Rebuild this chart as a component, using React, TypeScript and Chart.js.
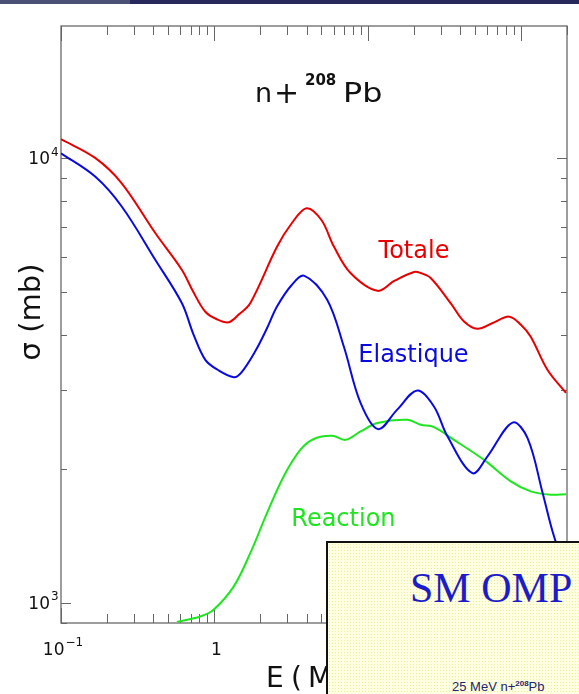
import React, { useEffect, useRef } from "react";
import { Chart, registerables } from "chart.js";

Chart.register(...registerables);

// Neutron energy (MeV) and cross sections (mb) for n + 208Pb
const totalEnergy = [0.1, 0.167, 0.249, 0.412, 0.615, 0.729, 0.874, 1.04, 1.24, 1.45, 1.72, 2.57, 3.2, 4.0, 5.0, 6.03, 7.74, 11.6, 15.0, 20.1, 22.2, 25.8, 34.9, 42.6, 52.1, 65, 84, 100, 116, 149, 197];
const totalSigma = [11020, 10000, 8770, 6780, 5600, 5000, 4510, 4337, 4270, 4450, 4720, 6320, 7130, 7710, 7250, 6320, 5510, 5025, 5295, 5540, 5510, 5370, 4710, 4288, 4128, 4248, 4397, 4215, 3963, 3340, 2961];

const elasticEnergy = [0.1, 0.167, 0.249, 0.412, 0.615, 0.729, 0.874, 1.05, 1.34, 1.5, 1.85, 2.2, 2.57, 3.2, 3.87, 5.45, 7.0, 9.0, 11.7, 15.6, 21.1, 27.1, 33.2, 48.3, 60.6, 88.3, 110.6, 138.7, 161, 200];
const elasticSigma = [10245, 9078, 7776, 5904, 4713, 4023, 3515, 3340, 3213, 3290, 3675, 4130, 4637, 5180, 5432, 4798, 3766, 2812, 2456, 2717, 2999, 2762, 2366, 1955, 2133, 2541, 2343, 1764, 1445, 1150];

const reactionEnergy = [0.57, 0.81, 0.99, 1.34, 1.72, 2.21, 2.84, 3.65, 4.46, 5.88, 7.18, 9.0, 11.6, 18.2, 22.2, 27.1, 36.6, 57.5, 86, 116, 157, 197];
const reactionSigma = [905, 931, 964, 1088, 1294, 1592, 1925, 2208, 2333, 2372, 2323, 2426, 2535, 2577, 2512, 2482, 2323, 2094, 1874, 1779, 1749, 1754];

// Axis ranges and labelled decades
const energyRange = [0.1, 200];
const sigmaRange = [900, 19800];
const energyTickValues = [0.1, 1, 10, 100];
const energyTickBase = ["10", "1", "10", "10"];
const energyTickExp = ["\u22121", "", "", "2"];
const sigmaTickValues = [1000, 10000];
const sigmaTickBase = ["10", "10"];
const sigmaTickExp = ["3", "4"];

// Curve names and where they are written (E in MeV, sigma in mb)
const curveNames = ["Totale", "Elastique", "Reaction"];
const curveNameEnergy = [11.8, 8.7, 3.18];
const curveNameSigma = [5960, 3480, 1490];

const RED = "#e80000";
const BLUE = "#0a0ae0";
const GREEN = "#1ee61e";
const curveColors = [RED, BLUE, GREEN];

const SANS = "'DejaVu Sans', 'Liberation Sans', sans-serif";

function toPoints(xs: number[], ys: number[]) {
  return xs.map((x, i) => ({ x, y: ys[i] }));
}

function drawPowerLabel(
  ctx: CanvasRenderingContext2D,
  base: string,
  exp: string,
  x: number,
  baseline: number,
  align: "center" | "right",
  baseSize: number,
  expSize: number
) {
  ctx.font = `${baseSize}px ${SANS}`;
  const bw = ctx.measureText(base).width;
  ctx.font = `${expSize}px ${SANS}`;
  const ew = exp ? ctx.measureText(exp).width + 1 : 0;
  const total = bw + ew;
  const left = align === "center" ? x - total / 2 : x - bw;
  ctx.textAlign = "left";
  ctx.textBaseline = "alphabetic";
  ctx.font = `${baseSize}px ${SANS}`;
  ctx.fillText(base, left, baseline);
  if (exp) {
    ctx.font = `${expSize}px ${SANS}`;
    ctx.fillText(exp, left + bw + 1, baseline - baseSize * 0.52);
  }
}

const framePlugin = {
  id: "pawFrame",
  beforeDatasetsDraw(chart: any) {
    const { ctx, chartArea: a, scales } = chart;
    const xs = scales.x;
    const ys = scales.y;
    ctx.save();
    ctx.strokeStyle = "#5c5c5c";
    ctx.lineWidth = 1.2;
    ctx.strokeRect(a.left, a.top, a.right - a.left, a.bottom - a.top);

    ctx.lineWidth = 1;
    ctx.strokeStyle = "#666";
    ctx.beginPath();
    for (let d = -1; d <= 2; d++) {
      for (let m = 1; m <= 9; m++) {
        const v = m * Math.pow(10, d);
        if (v < energyRange[0] || v > energyRange[1]) continue;
        const px = Math.round(xs.getPixelForValue(v)) + 0.5;
        const len = m === 1 ? 15 : 9;
        ctx.moveTo(px, a.bottom);
        ctx.lineTo(px, a.bottom - len);
        ctx.moveTo(px, a.top);
        ctx.lineTo(px, a.top + len);
      }
    }
    for (let d = 2; d <= 4; d++) {
      for (let m = 1; m <= 9; m++) {
        const v = m * Math.pow(10, d);
        if (v < sigmaRange[0] || v > sigmaRange[1]) continue;
        const py = Math.round(ys.getPixelForValue(v)) + 0.5;
        const len = m === 1 ? 10 : 6;
        ctx.moveTo(a.left, py);
        ctx.lineTo(a.left + len, py);
        ctx.moveTo(a.right, py);
        ctx.lineTo(a.right - len, py);
      }
    }
    ctx.stroke();

    // tick labels
    ctx.fillStyle = "#111";
    energyTickValues.forEach((v, i) => {
      const px = xs.getPixelForValue(v);
      drawPowerLabel(ctx, energyTickBase[i], energyTickExp[i], px + 2, a.bottom + 32, "center", 17, 12);
    });
    sigmaTickValues.forEach((v, i) => {
      const py = ys.getPixelForValue(v);
      drawPowerLabel(ctx, sigmaTickBase[i], sigmaTickExp[i], a.left - 11, py + 6.5, "right", 17, 12);
    });

    // axis titles
    ctx.fillStyle = "#111";
    ctx.font = `28px ${SANS}`;
    ctx.textAlign = "left";
    ctx.textBaseline = "alphabetic";
    ctx.fillText("E", 266, 687);
    ctx.fillText("(", 291, 687);
    ctx.fillText("MeV)", 308, 687);

    ctx.save();
    ctx.translate(40, 312);
    ctx.rotate(-Math.PI / 2);
    ctx.font = `29px ${SANS}`;
    ctx.textAlign = "center";
    ctx.fillText("\u03c3 (mb)", 0, 0);
    ctx.restore();

    // reaction title
    ctx.fillStyle = "#111";
    ctx.font = `27px ${SANS}`;
    ctx.fillText("n", 255, 102);
    ctx.font = `30px ${SANS}`;
    ctx.fillText("+", 274, 103);
    ctx.font = `bold 15px ${SANS}`;
    ctx.fillText("208", 305, 85);
    ctx.save();
    ctx.translate(343, 102);
    ctx.scale(1.18, 1);
    ctx.font = `27px ${SANS}`;
    ctx.fillText("Pb", 0, 0);
    ctx.restore();
    ctx.restore();
  },
  afterDatasetsDraw(chart: any) {
    const { ctx, scales } = chart;
    ctx.save();
    ctx.font = `24px ${SANS}`;
    ctx.textAlign = "left";
    ctx.textBaseline = "alphabetic";
    curveNames.forEach((name, i) => {
      ctx.fillStyle = curveColors[i];
      ctx.fillText(
        name,
        scales.x.getPixelForValue(curveNameEnergy[i]),
        scales.y.getPixelForValue(curveNameSigma[i])
      );
    });
    ctx.restore();
  },
};

export default function App() {
  const canvasRef = useRef<HTMLCanvasElement>(null);

  useEffect(() => {
    const canvas = canvasRef.current;
    if (!canvas) return;
    const common = {
      borderWidth: 2,
      pointRadius: 0,
      fill: false,
      tension: 0.35,
    };
    const chart = new Chart(canvas, {
      type: "line",
      data: {
        datasets: [
          { label: curveNames[0], data: toPoints(totalEnergy, totalSigma), borderColor: RED, ...common },
          { label: curveNames[1], data: toPoints(elasticEnergy, elasticSigma), borderColor: BLUE, ...common },
          { label: curveNames[2], data: toPoints(reactionEnergy, reactionSigma), borderColor: GREEN, ...common },
        ],
      },
      options: {
        animation: false,
        responsive: false,
        devicePixelRatio: 1,
        layout: { padding: { left: 61, top: 26, right: 12, bottom: 71 } },
        scales: {
          x: { type: "logarithmic", min: energyRange[0], max: energyRange[1], display: false },
          y: { type: "logarithmic", min: sigmaRange[0], max: sigmaRange[1], display: false },
        },
        plugins: { legend: { display: false }, tooltip: { enabled: false } },
      },
      plugins: [framePlugin],
    });
    return () => chart.destroy();
  }, []);

  return (
    <div
      style={{
        position: "absolute",
        left: 0,
        top: 0,
        width: 579,
        height: 694,
        overflow: "hidden",
        background: "#ffffff",
      }}
    >
      <canvas ref={canvasRef} width={579} height={694} style={{ display: "block" }} />
      <div style={{ position: "absolute", left: 0, top: 0, width: 130, height: 4, background: "#4b5174" }} />
      <div style={{ position: "absolute", left: 130, top: 0, width: 449, height: 4, background: "#27285c" }} />
      <div
        style={{
          position: "absolute",
          left: 326,
          top: 541,
          width: 300,
          height: 200,
          border: "2px solid #111",
          backgroundColor: "#ffffe2",
          backgroundImage: "radial-gradient(#ecec9c 0.8px, transparent 0.9px)",
          backgroundSize: "3px 3px",
        }}
      >
        <div
          style={{
            position: "absolute",
            left: 82,
            top: 24,
            fontFamily: "'Liberation Serif', 'Times New Roman', serif",
            fontSize: 42,
            lineHeight: "42px",
            color: "#1c1cc8",
            whiteSpace: "nowrap",
          }}
        >
          SM OMP
        </div>
        <div
          style={{
            position: "absolute",
            left: 124,
            top: 134,
            fontFamily: "'Liberation Sans', Arial, sans-serif",
            fontSize: 13,
            lineHeight: "13px",
            color: "#24246e",
            whiteSpace: "nowrap",
          }}
        >
          25 MeV n+<sup style={{ fontSize: 8, verticalAlign: "5px", fontWeight: "bold" }}>208</sup>Pb
        </div>
      </div>
    </div>
  );
}
